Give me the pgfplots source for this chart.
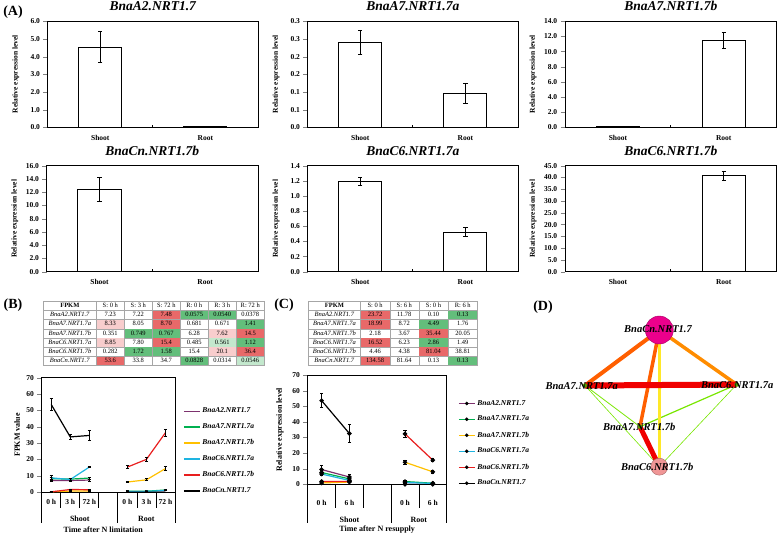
\documentclass[border=0pt]{standalone}
\usepackage[table]{xcolor}
\usepackage{pgfplots}
\pgfplotsset{compat=1.18}
\usepackage{array}
\usepackage{fontspec}
\setmainfont{Liberation Serif}

\definecolor{cA2}{RGB}{125,50,110}
\definecolor{cA7a}{RGB}{0,176,80}
\definecolor{cA7b}{RGB}{255,192,0}
\definecolor{cC6a}{RGB}{30,180,225}
\definecolor{cC6b}{RGB}{232,30,30}
\definecolor{tred}{RGB}{232,105,105}
\definecolor{tgreen}{RGB}{99,190,123}
\definecolor{tpink}{RGB}{248,205,205}
\definecolor{tlgreen}{RGB}{195,232,205}
\definecolor{nCn}{RGB}{236,0,140}
\definecolor{nC6b}{RGB}{240,150,150}
\definecolor{eOr1}{RGB}{255,95,0}
\definecolor{eOr2}{RGB}{255,140,0}
\definecolor{eYel}{RGB}{255,232,40}
\definecolor{eRed}{RGB}{240,0,0}
\definecolor{eGrn}{RGB}{120,230,0}

\newcommand{\Rd}[1]{\cellcolor{tred}#1}
\newcommand{\Gn}[1]{\cellcolor{tgreen}#1}
\newcommand{\Pk}[1]{\cellcolor{tpink}#1}
\newcommand{\Lg}[1]{\cellcolor{tlgreen}#1}

\pgfplotsset{
  every axis/.append style={/pgf/number format/assume math mode=true},
  Abar/.style={
    scale only axis, height=106pt, anchor=south west,
    xmin=-0.5, xmax=1.5, ymin=0,
    xtick={0,1}, xticklabels={Shoot,Root},
    xtick style={draw=none},
    ytick pos=left, tick align=outside,
    yticklabel style={/pgf/number format/fixed,/pgf/number format/fixed zerofill,/pgf/number format/precision=1},
    tick label style={font=\bfseries\fontsize{7.5}{8}\selectfont},
    ylabel={Relative expression level},
    every axis y label/.style={at={(axis description cs:-0.151,0.5)},rotate=90,anchor=center,font=\bfseries\fontsize{7.5}{8}\selectfont},
    title style={font=\bfseries\itshape\fontsize{13.5}{14}\selectfont,at={(0.5,1)},anchor=center,yshift=9pt},
    axis line style={line width=0.9pt},
    clip=false,
  },
  Abars/.style={ybar, bar width=0.41, bar shift=0pt, fill=white, draw=black, line width=1pt,
    error bars/y dir=both, error bars/y explicit,
    error bars/error bar style={line width=0.9pt,black},
    error bars/error mark options={black,mark size=2.2pt,line width=0.9pt,rotate=90}},
  Lerr/.style={error bars/y dir=both, error bars/y explicit,
    error bars/error bar style={line width=0.8pt,black},
    error bars/error mark options={black,mark size=1.6pt,line width=0.8pt,rotate=90}},
  CLeg/.style={legend image code/.code={\draw[#1,line width=1.2pt] (0pt,0pt) -- (16pt,0pt); \fill[black] (8pt,0pt) circle (1.6pt);}},
}

\begin{document}
\begin{tikzpicture}
\useasboundingbox (0pt,0pt) rectangle (778pt,-536pt);

% panel letters
\node[font=\bfseries\fontsize{14}{14}\selectfont] at (13pt,-12pt) {(A)};
\node[font=\bfseries\fontsize{14}{14}\selectfont] at (13pt,-305pt) {(B)};
\node[font=\bfseries\fontsize{14}{14}\selectfont] at (284pt,-305pt) {(C)};
\node[font=\bfseries\fontsize{14}{14}\selectfont] at (543pt,-306.7pt) {(D)};

% ---------------- Panel A ----------------
\begin{axis}[Abar, width=210.3pt, at={(47.7pt,-127.3pt)}, ymax=6, ytick={0,1,...,6}, title={BnaA2.NRT1.7}]
\addplot[Abars] coordinates {(0,4.53) +- (0,0.87) (1,0.03) +- (0,0)};
\draw[line width=0.9pt] (axis cs:0.5,0) -- ++(0pt,2.5pt);
\end{axis}

\begin{axis}[Abar, width=210.3pt, at={(307.7pt,-127.3pt)}, ymax=0.3,
  ytick={0,0.05,0.1,0.15,0.2,0.25,0.3}, yticklabels={0.0,0.1,0.1,0.2,0.2,0.3,0.3}, title={BnaA7.NRT1.7a}]
\addplot[Abars] coordinates {(0,0.24) +- (0,0.035) (1,0.096) +- (0,0.029)};
\draw[line width=0.9pt] (axis cs:0.5,0) -- ++(0pt,2.5pt);
\end{axis}

\begin{axis}[Abar, width=211.7pt, at={(565pt,-127.3pt)}, ymax=14, ytick={0,2,...,14}, title={BnaA7.NRT1.7b}]
\addplot[Abars] coordinates {(0,0.05) +- (0,0) (1,11.46) +- (0,1.05)};
\draw[line width=0.9pt] (axis cs:0.5,0) -- ++(0pt,2.5pt);
\end{axis}

\begin{axis}[Abar, width=211.3pt, at={(46.7pt,-271.7pt)}, ymax=16, ytick={0,2,...,16}, title={BnaCn.NRT1.7b}]
\addplot[Abars] coordinates {(0,12.42) +- (0,1.85) (1,0.04) +- (0,0)};
\draw[line width=0.9pt] (axis cs:0.5,0) -- ++(0pt,2.5pt);
\end{axis}

\begin{axis}[Abar, width=210.3pt, at={(307.7pt,-271.7pt)}, ymax=1.4, ytick={0,0.2,0.4,0.6,0.8,1.0,1.2,1.4}, title={BnaC6.NRT1.7a}]
\addplot[Abars] coordinates {(0,1.195) +- (0,0.05) (1,0.52) +- (0,0.058)};
\draw[line width=0.9pt] (axis cs:0.5,0) -- ++(0pt,2.5pt);
\end{axis}

\begin{axis}[Abar, width=211.7pt, at={(565pt,-271.7pt)}, ymax=45, ytick={0,5,...,45}, title={BnaC6.NRT1.7b}]
\addplot[Abars] coordinates {(0,0.15) +- (0,0) (1,40.7) +- (0,2.0)};
\draw[line width=0.9pt] (axis cs:0.5,0) -- ++(0pt,2.5pt);
\end{axis}

% ---------------- Panel B table ----------------
\node[anchor=north west, inner sep=0pt] at (43pt,-300.7pt) {%
\fontsize{6.5}{8.8}\selectfont\setlength{\tabcolsep}{0pt}\arrayrulecolor{gray!70}%
\begin{tabular}{|>{\centering\arraybackslash}p{52.5pt}|*{6}{>{\centering\arraybackslash}p{27.6pt}|}}
\hline
\textbf{FPKM} & S: 0 h & S: 3 h & S: 72 h & R: 0 h & R: 3 h & R: 72 h\\ \hline
\textit{BnaA2.NRT1.7} & 7.23 & 7.22 & \Rd{7.48} & \Gn{0.0575} & \Gn{0.0540} & 0.0378\\ \hline
\textit{BnaA7.NRT1.7a} & \Pk{8.33} & 8.05 & \Rd{8.70} & 0.681 & 0.671 & \Gn{1.41}\\ \hline
\textit{BnaA7.NRT1.7b} & 0.351 & \Gn{0.749} & \Gn{0.767} & 6.28 & \Pk{7.62} & \Rd{14.5}\\ \hline
\textit{BnaC6.NRT1.7a} & \Pk{8.85} & 7.80 & \Rd{15.4} & 0.485 & \Lg{0.561} & \Gn{1.12}\\ \hline
\textit{BnaC6.NRT1.7b} & 0.282 & \Gn{1.72} & \Gn{1.58} & 15.4 & \Pk{20.1} & \Rd{36.4}\\ \hline
\textit{BnaCn.NRT1.7} & \Rd{53.6} & 33.8 & 34.7 & \Gn{0.0828} & 0.0314 & \Lg{0.0546}\\ \hline
\end{tabular}};

% ---------------- Panel C table ----------------
\node[anchor=north west, inner sep=0pt] at (308pt,-300.7pt) {%
\fontsize{6.5}{8.8}\selectfont\setlength{\tabcolsep}{0pt}\arrayrulecolor{gray!70}%
\begin{tabular}{|>{\centering\arraybackslash}p{51.7pt}|*{4}{>{\centering\arraybackslash}p{28.8pt}|}}
\hline
\textbf{FPKM} & S: 0 h & S: 6 h & S: 0 h & R: 6 h\\ \hline
\textit{BnaA2.NRT1.7} & \Rd{23.72} & 11.78 & 0.10 & \Gn{0.13}\\ \hline
\textit{BnaA7.NRT1.7a} & \Rd{18.99} & 8.72 & \Gn{4.49} & 1.76\\ \hline
\textit{BnaA7.NRT1.7b} & 2.18 & 3.67 & \Rd{35.44} & 20.05\\ \hline
\textit{BnaC6.NRT1.7a} & \Rd{16.52} & 6.23 & \Gn{2.86} & 1.49\\ \hline
\textit{BnaC6.NRT1.7b} & 4.46 & 4.38 & \Rd{81.04} & 38.81\\ \hline
\textit{BnaCn.NRT1.7} & \Rd{134.58} & 81.64 & 0.13 & \Gn{0.13}\\ \hline
\end{tabular}};

% ---------------- Panel B line chart ----------------
\begin{axis}[scale only axis, width=133.3pt, height=114.7pt, at={(41.7pt,-492.3pt)}, anchor=south west,
  xmin=-0.5, xmax=6.5, ymin=0, ymax=70, ytick={0,10,...,70}, xtick=\empty,
  ytick pos=left, tick align=outside,
  tick label style={font=\bfseries\fontsize{7.5}{8}\selectfont},
  ylabel={FPKM value},
  every axis y label/.style={at={(axis description cs:-0.185,0.5)},rotate=90,anchor=center,font=\bfseries\fontsize{8}{8}\selectfont},
  axis line style={line width=0.8pt}, clip=false,
  legend style={draw=none, fill=none, at={(1.06,0.755)}, anchor=north west,
    font=\bfseries\itshape\fontsize{7.5}{8}\selectfont, row sep=5.4pt, inner sep=0pt, cells={anchor=west}},
  legend image code/.code={\draw[#1] (0pt,0pt) -- (16pt,0pt);},
]
\addplot[cA2, line width=1.2pt, Lerr] coordinates {(0,7.23) +- (0,0.6) (1,7.22) +- (0,0.6) (2,7.48) +- (0,0.6)};
\addlegendentry{BnaA2.NRT1.7}
\addplot[cA2, line width=1.2pt, forget plot, Lerr] coordinates {(4,0.0575) +- (0,0.1) (5,0.054) +- (0,0.1) (6,0.0378) +- (0,0.1)};
\addplot[cA7a, line width=1.2pt, Lerr] coordinates {(0,8.33) +- (0,0.8) (1,8.05) +- (0,0.6) (2,8.70) +- (0,0.6)};
\addlegendentry{BnaA7.NRT1.7a}
\addplot[cA7a, line width=1.2pt, forget plot, Lerr] coordinates {(4,0.681) +- (0,0.2) (5,0.671) +- (0,0.2) (6,1.41) +- (0,0.3)};
\addplot[cA7b, line width=1.2pt, Lerr] coordinates {(0,0.351) +- (0,0.1) (1,0.749) +- (0,0.1) (2,0.767) +- (0,0.1)};
\addlegendentry{BnaA7.NRT1.7b}
\addplot[cA7b, line width=1.2pt, forget plot, Lerr] coordinates {(4,6.28) +- (0,0.4) (5,7.62) +- (0,0.6) (6,14.5) +- (0,1.4)};
\addplot[cC6a, line width=1.2pt, Lerr] coordinates {(0,8.85) +- (0,1.2) (1,7.80) +- (0,0.6) (2,15.4) +- (0,0.5)};
\addlegendentry{BnaC6.NRT1.7a}
\addplot[cC6a, line width=1.2pt, forget plot, Lerr] coordinates {(4,0.485) +- (0,0.1) (5,0.561) +- (0,0.1) (6,1.12) +- (0,0.2)};
\addplot[cC6b, line width=1.2pt, Lerr] coordinates {(0,0.282) +- (0,0.1) (1,1.72) +- (0,0.3) (2,1.58) +- (0,0.3)};
\addlegendentry{BnaC6.NRT1.7b}
\addplot[cC6b, line width=1.2pt, forget plot, Lerr] coordinates {(4,15.4) +- (0,0.8) (5,20.1) +- (0,1.2) (6,36.4) +- (0,2.2)};
\addplot[black, line width=1.2pt, Lerr] coordinates {(0,53.6) +- (0,3.6) (1,33.8) +- (0,1.8) (2,34.7) +- (0,2.8)};
\addlegendentry{BnaCn.NRT1.7}
\addplot[black, line width=1.2pt, forget plot, Lerr] coordinates {(4,0.0828) +- (0,0.1) (5,0.0314) +- (0,0.1) (6,0.0546) +- (0,0.1)};
% category separators and labels
\draw[line width=0.8pt] (axis cs:-0.5,0) -- ++(0pt,-30.7pt);
\draw[line width=0.8pt] (axis cs:6.5,0) -- ++(0pt,-30.7pt);
\draw[line width=0.8pt] (axis cs:3.5,0) -- ++(0pt,-30.7pt);
\draw[line width=0.8pt] (axis cs:0.5,0) -- ++(0pt,-15.7pt);
\draw[line width=0.8pt] (axis cs:1.5,0) -- ++(0pt,-15.7pt);
\draw[line width=0.8pt] (axis cs:2.5,0) -- ++(0pt,-15.7pt);
\draw[line width=0.8pt] (axis cs:4.5,0) -- ++(0pt,-15.7pt);
\draw[line width=0.8pt] (axis cs:5.5,0) -- ++(0pt,-15.7pt);
\node[font=\bfseries\fontsize{7.5}{8}\selectfont] at (axis cs:0,0) [yshift=-9.4pt] {0 h};
\node[font=\bfseries\fontsize{7.5}{8}\selectfont] at (axis cs:1,0) [yshift=-9.4pt] {3 h};
\node[font=\bfseries\fontsize{7.5}{8}\selectfont] at (axis cs:2,0) [yshift=-9.4pt] {72 h};
\node[font=\bfseries\fontsize{7.5}{8}\selectfont] at (axis cs:4,0) [yshift=-9.4pt] {0 h};
\node[font=\bfseries\fontsize{7.5}{8}\selectfont] at (axis cs:5,0) [yshift=-9.4pt] {3 h};
\node[font=\bfseries\fontsize{7.5}{8}\selectfont] at (axis cs:6,0) [yshift=-9.4pt] {72 h};
\node[font=\bfseries\fontsize{8}{8}\selectfont] at (axis cs:1.5,0) [yshift=-26.7pt] {Shoot};
\node[font=\bfseries\fontsize{8}{8}\selectfont] at (axis cs:5,0) [yshift=-26.7pt] {Root};
\node[font=\bfseries\fontsize{8}{8}\selectfont] at (axis cs:2.73,0) [yshift=-37.7pt] {Time after N limitation};
\end{axis}

% ---------------- Panel C line chart ----------------
\begin{axis}[scale only axis, width=139pt, height=109.3pt, at={(307.7pt,-484.3pt)}, anchor=south west,
  xmin=-0.5, xmax=4.5, ymin=0, ymax=70, ytick={0,10,...,70}, xtick=\empty,
  ytick pos=left, tick align=outside,
  tick label style={font=\bfseries\fontsize{7.5}{8}\selectfont},
  ylabel={Relative expression level},
  every axis y label/.style={at={(axis description cs:-0.2,0.5)},rotate=90,anchor=center,font=\bfseries\fontsize{8}{8}\selectfont},
  axis line style={line width=0.8pt}, clip=false,
  legend style={draw=none, fill=none, at={(1.081,0.79)}, anchor=north west,
    font=\bfseries\itshape\fontsize{7.5}{8}\selectfont, row sep=5.4pt, inner sep=0pt, cells={anchor=west}},
  Cm/.style={mark=*, mark size=1.6pt, mark options={draw=black,fill=black}},
]
\addlegendimage{CLeg=cA2}\addlegendentry{BnaA2.NRT1.7}
\addlegendimage{CLeg=cA7a}\addlegendentry{BnaA7.NRT1.7a}
\addlegendimage{CLeg=cA7b}\addlegendentry{BnaA7.NRT1.7b}
\addlegendimage{CLeg=cC6a}\addlegendentry{BnaC6.NRT1.7a}
\addlegendimage{CLeg=cC6b}\addlegendentry{BnaC6.NRT1.7b}
\addlegendimage{CLeg=black}\addlegendentry{BnaCn.NRT1.7}
\addplot[cA2, line width=1.2pt, Cm, forget plot, Lerr] coordinates {(0,9.45) +- (0,2.4) (1,4.69) +- (0,1.5)};
\addplot[cA2, line width=1.2pt, Cm, forget plot, Lerr] coordinates {(3,0.04) +- (0,0.1) (4,0.05) +- (0,0.1)};
\addplot[cA7a, line width=1.2pt, Cm, forget plot, Lerr] coordinates {(0,7.57) +- (0,1.5) (1,3.47) +- (0,1.0)};
\addplot[cA7a, line width=1.2pt, Cm, forget plot, Lerr] coordinates {(3,1.79) +- (0,0.5) (4,0.70) +- (0,0.2)};
\addplot[cA7b, line width=1.2pt, Cm, forget plot, Lerr] coordinates {(0,0.87) +- (0,0.3) (1,1.46) +- (0,0.3)};
\addplot[cA7b, line width=1.2pt, Cm, forget plot, Lerr] coordinates {(3,14.12) +- (0,1.5) (4,7.99) +- (0,1.0)};
\addplot[cC6a, line width=1.2pt, Cm, forget plot, Lerr] coordinates {(0,6.58) +- (0,1.0) (1,2.48) +- (0,1.0)};
\addplot[cC6a, line width=1.2pt, Cm, forget plot, Lerr] coordinates {(3,1.14) +- (0,0.3) (4,0.59) +- (0,0.2)};
\addplot[cC6b, line width=1.2pt, Cm, forget plot, Lerr] coordinates {(0,1.78) +- (0,0.4) (1,1.75) +- (0,0.4)};
\addplot[cC6b, line width=1.2pt, Cm, forget plot, Lerr] coordinates {(3,32.29) +- (0,2.0) (4,15.46) +- (0,1.0)};
\addplot[black, line width=1.2pt, Cm, forget plot, Lerr] coordinates {(0,53.62) +- (0,4.5) (1,32.53) +- (0,5.8)};
\addplot[black, line width=1.2pt, Cm, forget plot, Lerr] coordinates {(3,0.05) +- (0,0.1) (4,0.05) +- (0,0.1)};
\draw[line width=0.8pt] (axis cs:-0.5,0) -- ++(0pt,-39pt);
\draw[line width=0.8pt] (axis cs:4.5,0) -- ++(0pt,-39pt);
\draw[line width=0.8pt] (axis cs:2.5,0) -- ++(0pt,-39pt);
\draw[line width=0.8pt] (axis cs:0.5,0) -- ++(0pt,-24pt);
\draw[line width=0.8pt] (axis cs:1.5,0) -- ++(0pt,-24pt);
\draw[line width=0.8pt] (axis cs:3.5,0) -- ++(0pt,-24pt);
\node[font=\bfseries\fontsize{7.5}{8}\selectfont] at (axis cs:0,0) [yshift=-19pt] {0 h};
\node[font=\bfseries\fontsize{7.5}{8}\selectfont] at (axis cs:1,0) [yshift=-19pt] {6 h};
\node[font=\bfseries\fontsize{7.5}{8}\selectfont] at (axis cs:3,0) [yshift=-19pt] {0 h};
\node[font=\bfseries\fontsize{7.5}{8}\selectfont] at (axis cs:4,0) [yshift=-19pt] {6 h};
\node[font=\bfseries\fontsize{8}{8}\selectfont] at (axis cs:1,0) [yshift=-35.7pt] {Shoot};
\node[font=\bfseries\fontsize{8}{8}\selectfont] at (axis cs:3.5,0) [yshift=-35.7pt] {Root};
\node[font=\bfseries\fontsize{8}{8}\selectfont] at (axis cs:2,0) [yshift=-45.7pt] {Time after N resupply};
\end{axis}

% ---------------- Panel D network ----------------
\begin{axis}[hide axis, x=1pt, y=1pt, xmin=520, xmax=778, ymin=-536, ymax=-285,
  at={(520pt,-536pt)}, anchor=south west, clip=false]
\addplot[eGrn, line width=0.8pt] coordinates {(585,-385.5) (640,-426.7)};
\addplot[eGrn, line width=0.6pt] coordinates {(585,-385.5) (659.3,-466.7)};
\addplot[eGrn, line width=1.2pt] coordinates {(736.7,-384.5) (640,-426.7)};
\addplot[eGrn, line width=0.6pt] coordinates {(736.7,-384.5) (659.3,-466.7)};
\addplot[eOr1, line width=4pt] coordinates {(659.3,-330) (585,-385.5)};
\addplot[eOr2, line width=3.5pt] coordinates {(659.3,-330) (736.7,-384.5)};
\addplot[eYel, line width=3pt] coordinates {(659.3,-330) (659.3,-466.7)};
\addplot[eOr1, line width=3.5pt] coordinates {(659.3,-330) (640,-426.7)};
\addplot[eRed, line width=6pt] coordinates {(585,-385.5) (736.7,-384.5)};
\addplot[eRed, line width=5pt] coordinates {(640,-426.7) (659.3,-466.7)};
\addplot[only marks, mark=*, mark size=14pt, mark options={fill=nCn, draw=nCn!70!black, line width=0.4pt}] coordinates {(659.3,-330)};
\addplot[only marks, mark=*, mark size=8.5pt, mark options={fill=nC6b, draw=nC6b!70!black, line width=0.4pt}] coordinates {(659.3,-466.7)};
\addplot[only marks, mark=*, mark size=2pt, mark options={fill=eGrn!70!black, draw=eGrn!70!black}] coordinates {(585,-385.5) (736.7,-384.5) (640,-426.7)};
\end{axis}
% node labels on top
\node[font=\bfseries\itshape\fontsize{10.5}{11}\selectfont] at (658pt,-329.3pt) {BnaCn.NRT1.7};
\node[font=\bfseries\itshape\fontsize{10.5}{11}\selectfont] at (581.7pt,-386pt) {BnaA7.NRT1.7a};
\node[font=\bfseries\itshape\fontsize{10.5}{11}\selectfont] at (737.3pt,-385pt) {BnaC6.NRT1.7a};
\node[font=\bfseries\itshape\fontsize{10.5}{11}\selectfont] at (639.3pt,-426.7pt) {BnaA7.NRT1.7b};
\node[font=\bfseries\itshape\fontsize{10.5}{11}\selectfont] at (657.3pt,-466.7pt) {BnaC6.NRT1.7b};
\end{tikzpicture}
\end{document}
